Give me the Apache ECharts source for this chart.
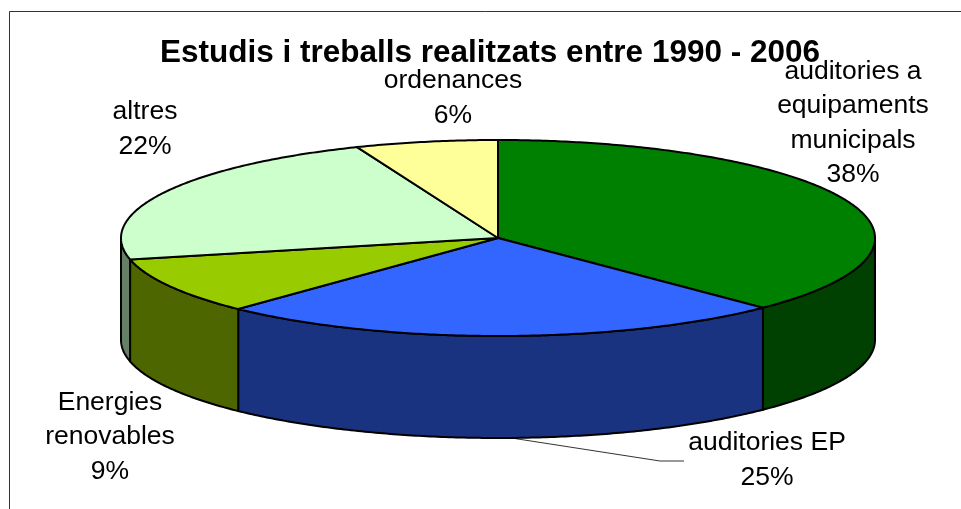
<!DOCTYPE html>
<html>
<head>
<meta charset="utf-8">
<style>
html, body { margin: 0; padding: 0; background: #fff; }
#main { width: 961px; height: 509px; }
</style>
<script src="https://cdn.jsdelivr.net/npm/echarts@6/dist/echarts.min.js"></script>
</head>
<body>
<div id="main"></div>
<script>
var titleText = "Estudis i treballs realitzats entre 1990 - 2006";
var names = ["auditories a\nequipaments\nmunicipals", "auditories EP", "Energies\nrenovables", "altres", "ordenances"];
// they round to the printed percentages
var values = [37.6, 24.5, 9.4, 22.4, 6.1];
var topColors = ["#008000", "#3366ff", "#99cc00", "#ccffcc", "#ffff99"];
var wallColors = ["#004000", "#1a3380", "#4d6600", "#668066", "#808060"];
var labelAnchors = [[853, 123], [767, 460], [110, 437], [145, 129], [453, 98]];

var cx = 498, cy = 238, rx = 377, ry = 98, depth = 102;
var total = values.reduce(function (a, b) { return a + b; }, 0);

function arcPoints(from, to, dy) {
    var pts = [], n = Math.max(2, Math.ceil(Math.abs(to - from) / 0.01));
    for (var i = 0; i <= n; i++) {
        var t = from + (to - from) * i / n;
        pts.push([cx + rx * Math.sin(t), cy - ry * Math.cos(t) + dy]);
    }
    return pts;
}

function renderSlice(params, api) {
    var idx = params.dataIndex, before = 0;
    for (var i = 0; i < idx; i++) before += values[i];
    var a0 = before / total * 2 * Math.PI;
    var a1 = (before + api.value(0)) / total * 2 * Math.PI;
    var children = [];
    var stroke = { stroke: "#000", lineWidth: 2, lineJoin: "round" };

    // side wall, only the part facing the viewer
    var w0 = Math.max(a0, Math.PI / 2), w1 = Math.min(a1, Math.PI * 1.5);
    if (w1 > w0) {
        var wall = arcPoints(w0, w1, 0).concat(arcPoints(w1, w0, depth));
        children.push({
            type: "polygon",
            shape: { points: wall },
            style: Object.assign({ fill: wallColors[idx] }, stroke)
        });
    }
    // top face
    var face = [[cx, cy]].concat(arcPoints(a0, a1, 0));
    children.push({
        type: "polygon",
        z2: 5,
        shape: { points: face },
        style: Object.assign({ fill: topColors[idx] }, stroke)
    });
    // label
    children.push({
        type: "text",
        z2: 10,
        x: labelAnchors[idx][0],
        y: labelAnchors[idx][1],
        style: {
            text: names[idx] + "\n" + Math.round(api.value(0)) + "%",
            fill: "#000",
            font: "26.5px 'Liberation Sans', Arial, sans-serif",
            lineHeight: 34.5,
            align: "center",
            verticalAlign: "middle"
        }
    });
    return { type: "group", children: children };
}

var chart = echarts.init(document.getElementById("main"));
chart.setOption({
    animation: false,
    backgroundColor: "#fff",
    title: {
        text: titleText,
        left: 485,
        top: 32,
        textAlign: "center",
        textStyle: {
            color: "#000",
            fontFamily: "'Liberation Sans', Arial, sans-serif",
            fontWeight: "bold",
            fontSize: 31.5
        }
    },
    series: [{
        type: "custom",
        coordinateSystem: "none",
        renderItem: renderSlice,
        data: values.map(function (v) { return [v]; })
    }],
    graphic: [
        { type: "line", shape: { x1: 9.5, y1: 11.5, x2: 961, y2: 11.5 }, style: { stroke: "#333", lineWidth: 1 } },
        { type: "line", shape: { x1: 9.5, y1: 11.5, x2: 9.5, y2: 509 }, style: { stroke: "#333", lineWidth: 1 } },
        { type: "polyline", shape: { points: [[505, 437], [660, 461], [684, 461]] }, style: { stroke: "#333", lineWidth: 1, fill: null } }
    ]
});
</script>
</body>
</html>
